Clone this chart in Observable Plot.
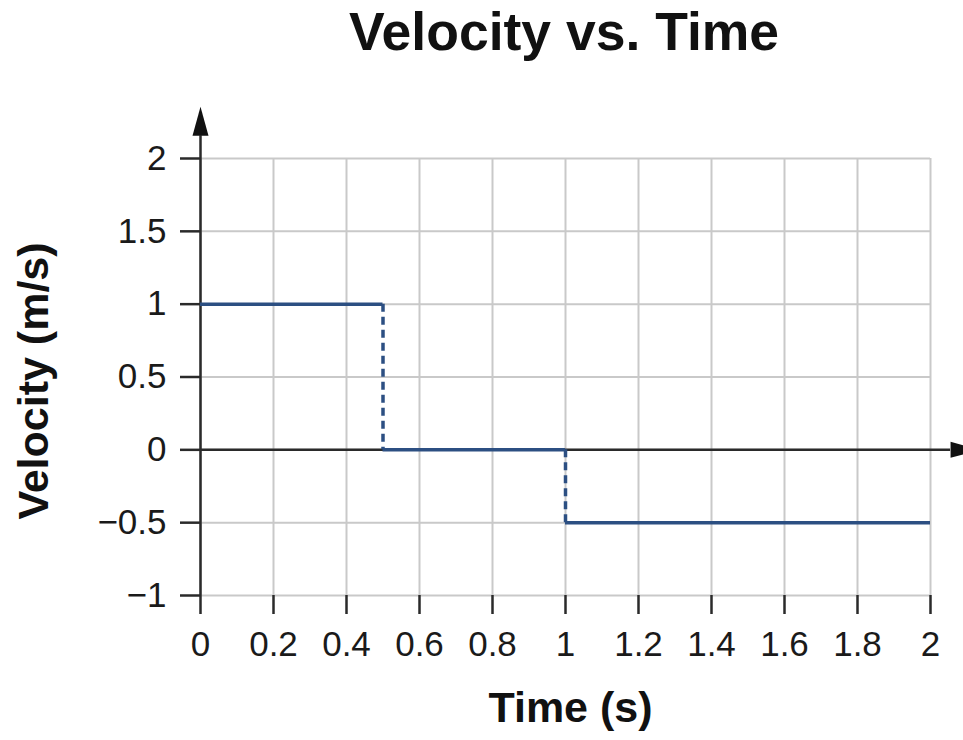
<!DOCTYPE html>
<html>
<head>
<meta charset="utf-8">
<script src="https://cdn.jsdelivr.net/npm/d3@7"></script>
<script src="https://cdn.jsdelivr.net/npm/@observablehq/plot@0.6"></script>
<style>
  html, body { margin: 0; padding: 0; background: #fff; }
  #chart { width: 963px; height: 740px; position: relative; overflow: hidden; font-family: "Liberation Sans", Arial, sans-serif; }
  #title {
    height: 64px; line-height: 64px; font-size: 53.5px; font-weight: bold; color: #111;
    text-align: center; box-sizing: border-box; padding-left: 165px; width: 963px; white-space: nowrap;
  }
  svg { display: block; }
</style>
</head>
<body>
<div id="chart">
  <div id="title">Velocity vs. Time</div>
</div>
<script>
// Piecewise-constant velocity: each segment runs from segStart to segEnd
const segStart = [0, 0.5, 1];
const segEnd = [0.5, 1, 2];
const velocity = [1, 0, -0.5];

// Axis ticks and their printed labels
const xTicks = [0, 0.2, 0.4, 0.6, 0.8, 1, 1.2, 1.4, 1.6, 1.8, 2];
const xTickLabels = ["0", "0.2", "0.4", "0.6", "0.8", "1", "1.2", "1.4", "1.6", "1.8", "2"];
const yTicks = [-1, -0.5, 0, 0.5, 1, 1.5, 2];
const yTickLabels = ["\u22121", "\u22120.5", "0", "0.5", "1", "1.5", "2"];

// Where the axis arrows sit (data units, just past the plotted range)
const yAxisEnd = 2.156;
const xAxisEnd = 2.055;

const xLabel = "Time (s)";
const yLabel = "Velocity (m/s)";

const segments = segStart.map((s, i) => ({t1: s, t2: segEnd[i], v: velocity[i]}));
const jumps = segEnd.slice(0, -1).map((t, i) => ({t, v1: velocity[i], v2: velocity[i + 1]}));

const xFmt = new Map(xTicks.map((d, i) => [d, xTickLabels[i]]));
const yFmt = new Map(yTicks.map((d, i) => [d, yTickLabels[i]]));

const lineColor = "#2c4f82";
const axisColor = "#2a2a2a";
const gridColor = "#c9c9c9";

const plot = Plot.plot({
  width: 963,
  height: 676,
  marginTop: 94,
  marginBottom: 145,
  marginLeft: 200,
  marginRight: 33,
  style: {fontFamily: "'Liberation Sans', Arial, sans-serif", color: "#1a1a1a", background: "white", overflow: "visible"},
  x: {domain: [0, 2]},
  y: {domain: [-1, 2]},
  marks: [
    Plot.gridX(xTicks, {stroke: gridColor, strokeOpacity: 1, strokeWidth: 2}),
    Plot.gridY(yTicks, {stroke: gridColor, strokeOpacity: 1, strokeWidth: 2}),
    Plot.axisX(xTicks, {
      tickSize: 19, tickPadding: 17, fontSize: 35, stroke: axisColor, strokeWidth: 2.5,
      tickFormat: d => xFmt.get(d), label: null
    }),
    Plot.axisY(yTicks, {
      tickSize: 20, tickPadding: 14, fontSize: 35, stroke: axisColor, strokeWidth: 2.5,
      tickFormat: d => yFmt.get(d), label: null
    }),
    // Axis lines with arrowheads
    Plot.ruleX([0], {y1: -1, y2: yAxisEnd, stroke: axisColor, strokeWidth: 2.5}),
    Plot.ruleY([0], {x1: 0, x2: xAxisEnd, stroke: axisColor, strokeWidth: 2.5}),
    Plot.vector([{x: 0, y: yAxisEnd}], {
      x: "x", y: "y", rotate: 0, length: 29, shape: "spike", r: 8, anchor: "start",
      fill: "#111", fillOpacity: 1, stroke: "none"
    }),
    Plot.vector([{x: xAxisEnd, y: 0}], {
      x: "x", y: "y", rotate: 90, length: 29, shape: "spike", r: 8, anchor: "start",
      fill: "#111", fillOpacity: 1, stroke: "none"
    }),
    // Velocity steps
    Plot.ruleY(segments, {y: "v", x1: "t1", x2: "t2", stroke: lineColor, strokeWidth: 3.5}),
    Plot.ruleX(jumps, {x: "t", y1: "v1", y2: "v2", stroke: lineColor, strokeWidth: 3.5, strokeDasharray: "8,5"}),
    // Axis titles
    Plot.text([xLabel], {frameAnchor: "bottom", dx: 5, dy: 126, fontSize: 43, fontWeight: "bold", fill: "#111"}),
    Plot.text([yLabel], {frameAnchor: "left", textAnchor: "middle", dx: -166, dy: 4, rotate: -90, fontSize: 43, fontWeight: "bold", fill: "#111"})
  ]
});

document.getElementById("chart").appendChild(plot);
</script>
</body>
</html>
